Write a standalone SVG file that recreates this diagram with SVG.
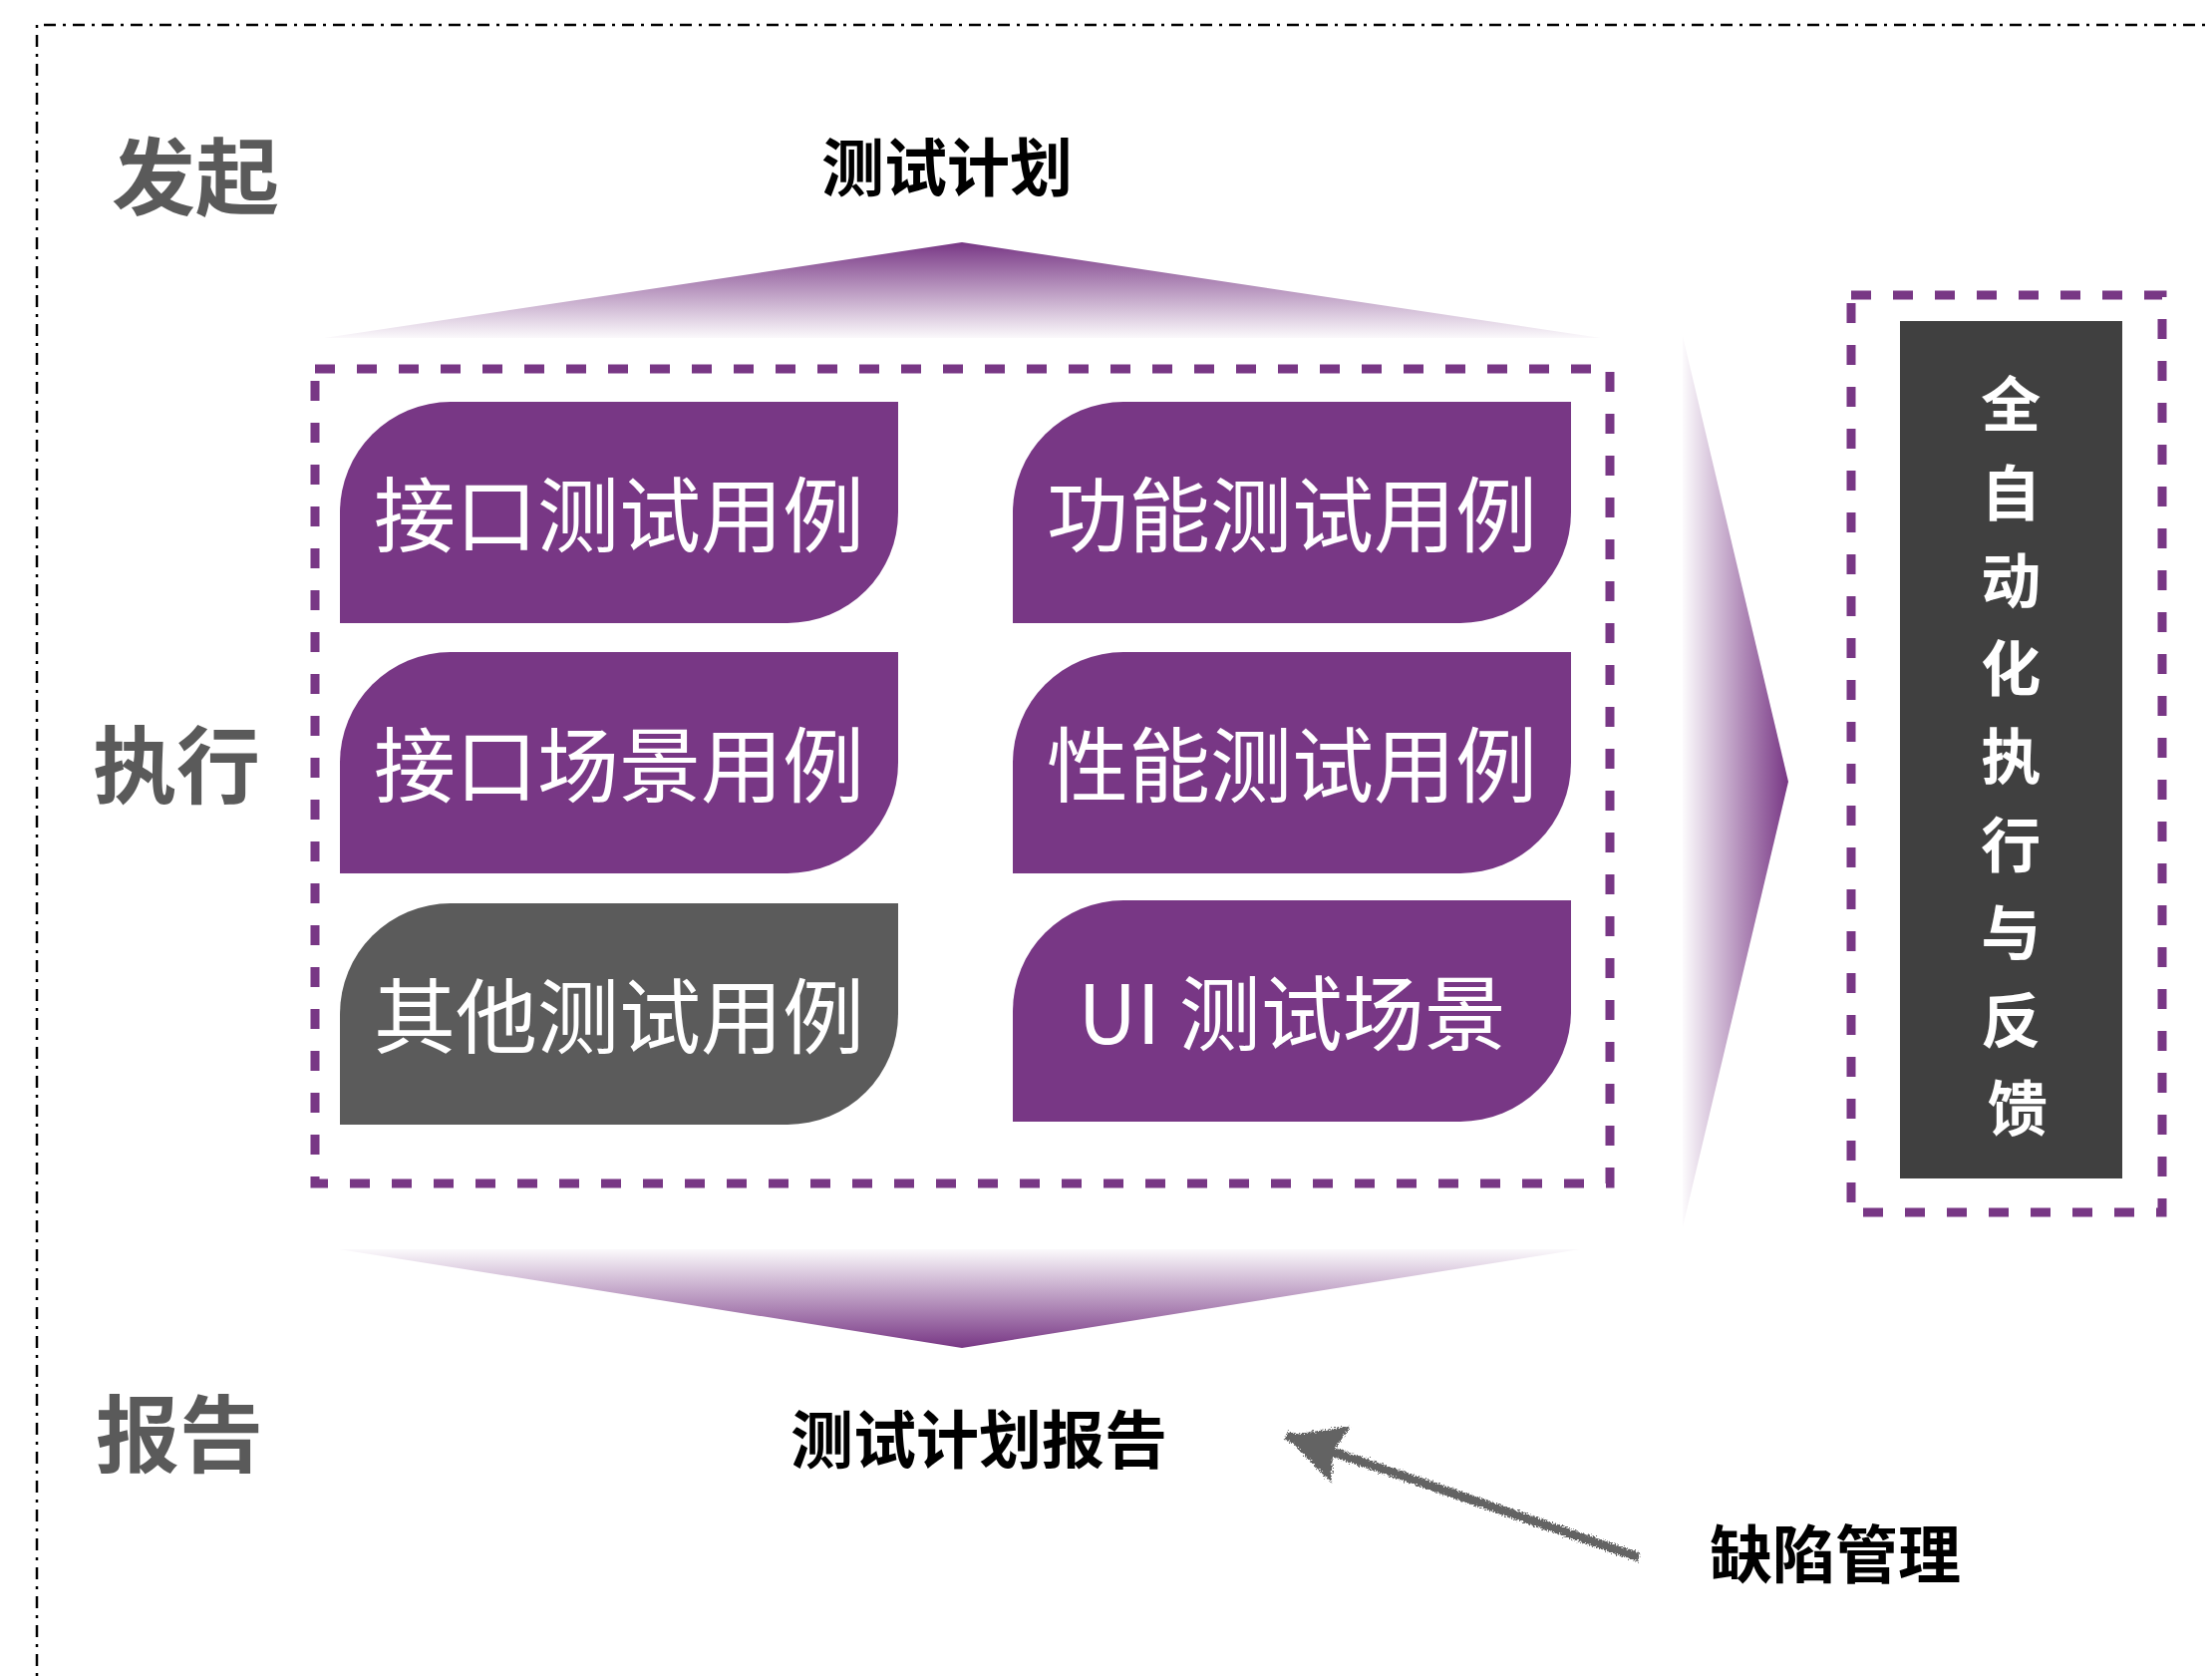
<svg xmlns="http://www.w3.org/2000/svg" width="2219" height="1681" viewBox="0 0 2219 1681">
<style>
.stage{font-family:"Noto Sans CJK SC","Liberation Sans",sans-serif;font-weight:700;fill:#5a5a5a;font-size:84px}
.title{font-family:"Noto Sans CJK SC","Liberation Sans",sans-serif;font-weight:700;fill:#000;font-size:63px}
.nodetext{font-family:"Noto Sans CJK SC","Liberation Sans",sans-serif;font-weight:400;fill:#fff;font-size:82px}
.vtext{font-family:"Noto Sans CJK SC","Liberation Sans",sans-serif;font-weight:700;fill:#fff;font-size:60px}
.purple{fill:#783785}
.gray{fill:#5b5b5b}
.dashbox{fill:none;stroke:#783785;stroke-width:9;stroke-dasharray:20 22}
</style>
<defs>
<linearGradient id="gUp" x1="0" y1="0" x2="0" y2="1">
<stop offset="0" stop-color="#783785"/>
<stop offset="1" stop-color="#783785" stop-opacity="0.03"/>
</linearGradient>
<linearGradient id="gDown" x1="0" y1="0" x2="0" y2="1">
<stop offset="0" stop-color="#783785" stop-opacity="0.03"/>
<stop offset="1" stop-color="#783785"/>
</linearGradient>
<linearGradient id="gRight" x1="0" y1="0" x2="1" y2="0">
<stop offset="0" stop-color="#783785" stop-opacity="0.02"/>
<stop offset="1" stop-color="#783785"/>
</linearGradient>
<path id="tab" d="M111,0 H560 V111 A111 111 0 0 1 449,222 H0 V111 A111 111 0 0 1 111,0 Z"/>
<filter id="rough" x="-10%" y="-10%" width="120%" height="120%">
<feTurbulence type="fractalNoise" baseFrequency="0.7" numOctaves="2" seed="3" result="n"/>
<feDisplacementMap in="SourceGraphic" in2="n" scale="7" xChannelSelector="R" yChannelSelector="G"/>
</filter>
<marker id="head" viewBox="-62 -32 64 64" markerWidth="64" markerHeight="64" refX="0" refY="0" orient="auto" markerUnits="userSpaceOnUse">
<path d="M0,0 L-58,-30 L-50,0 L-58,30 Z" fill="#636363"/>
</marker>
</defs>
<rect width="2219" height="1681" fill="#fff"/>
<path d="M37,1700 V25 H2240" fill="none" stroke="#000" stroke-width="2.5" stroke-dasharray="12 7 3 7"/>

<g id="stage-labels">
<text class="stage" x="196" y="172" text-anchor="middle" dominant-baseline="central">发起</text>
<text class="stage" x="177" y="762" text-anchor="middle" dominant-baseline="central">执行</text>
<text class="stage" x="180" y="1433" text-anchor="middle" dominant-baseline="central">报告</text>
</g>

<g id="plan">
<text class="title" x="950" y="163" text-anchor="middle" dominant-baseline="central">测试计划</text>
</g>
<g id="report">
<text class="title" x="982" y="1439" text-anchor="middle" dominant-baseline="central">测试计划报告</text>
</g>
<g id="defect">
<text class="title" x="1841" y="1554" text-anchor="middle" dominant-baseline="central">缺陷管理</text>
</g>

<g id="connectors">
<polygon points="965,243 1606,339 325,339" fill="url(#gUp)"/>
<polygon points="340,1253 1585,1253 965,1352" fill="url(#gDown)"/>
<polygon points="1688,337 1794,784 1688,1231" fill="url(#gRight)"/>
<g filter="url(#rough)">
<line x1="1644" y1="1562" x2="1290" y2="1440" stroke="#636363" stroke-width="9" marker-end="url(#head)"/>
</g>
</g>

<g id="cases">
<rect class="dashbox" x="316" y="370" width="1299" height="817"/>
<g id="n1"><use href="#tab" x="341" y="403" class="purple"/><text class="nodetext" x="621" y="511" text-anchor="middle" dominant-baseline="central">接口测试用例</text></g>
<g id="n2"><use href="#tab" x="1016" y="403" class="purple"/><text class="nodetext" x="1296" y="511" text-anchor="middle" dominant-baseline="central">功能测试用例</text></g>
<g id="n3"><use href="#tab" x="341" y="654" class="purple"/><text class="nodetext" x="621" y="762" text-anchor="middle" dominant-baseline="central">接口场景用例</text></g>
<g id="n4"><use href="#tab" x="1016" y="654" class="purple"/><text class="nodetext" x="1296" y="762" text-anchor="middle" dominant-baseline="central">性能测试用例</text></g>
<g id="n5"><use href="#tab" x="341" y="906" class="gray"/><text class="nodetext" x="621" y="1014" text-anchor="middle" dominant-baseline="central">其他测试用例</text></g>
<g id="n6"><use href="#tab" x="1016" y="903" class="purple"/><text class="nodetext" x="1296" y="1011" text-anchor="middle" dominant-baseline="central">UI 测试场景</text></g>
</g>

<g id="automation">
<rect class="dashbox" x="1857" y="296" width="312" height="920" stroke-width="10"/>
<rect x="1906" y="322" width="223" height="860" fill="#404040"/>
<text class="vtext" x="2024" text-anchor="middle" dominant-baseline="central">
<tspan x="2024" y="401">全</tspan>
<tspan x="2024" y="490">自</tspan>
<tspan x="2024" y="578">动</tspan>
<tspan x="2024" y="666">化</tspan>
<tspan x="2024" y="754">执</tspan>
<tspan x="2024" y="843">行</tspan>
<tspan x="2024" y="931">与</tspan>
<tspan x="2024" y="1019">反</tspan>
<tspan x="2024" y="1107">馈</tspan>
</text>
</g>
</svg>
